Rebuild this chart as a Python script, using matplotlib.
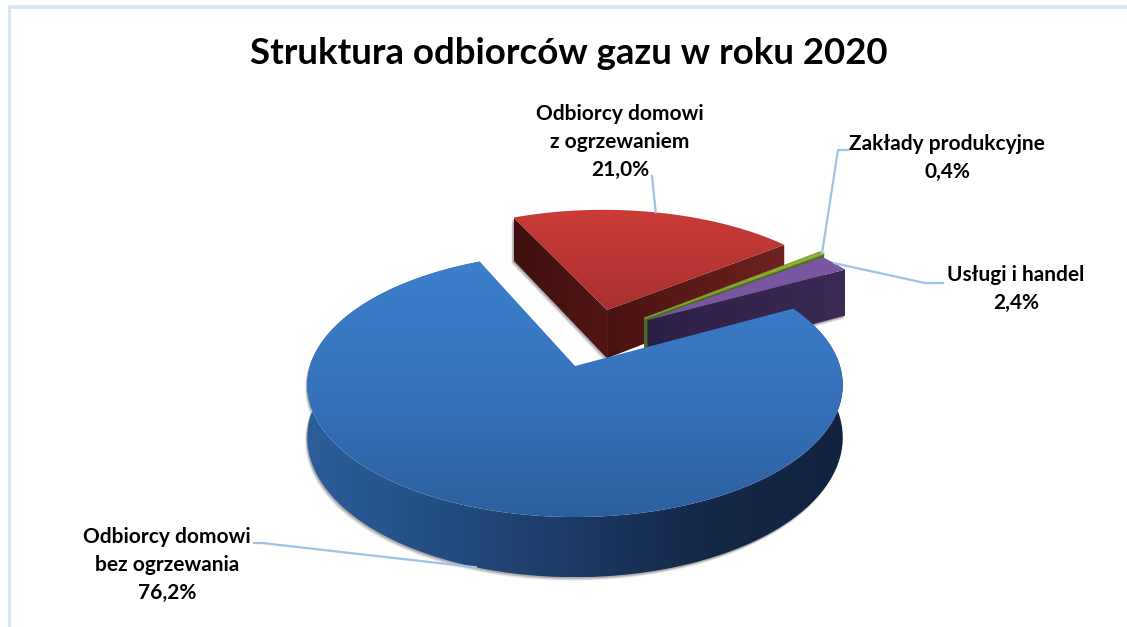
#!/usr/bin/env python3
import numpy as np
import matplotlib
matplotlib.use('Agg')
import matplotlib.pyplot as plt
from matplotlib.colors import LinearSegmentedColormap
from matplotlib.patches import Polygon

title = 'Struktura odbiorców gazu w roku 2020'
# clockwise from the slice that starts the pie
names = ['Odbiorcy domowi\nz ogrzewaniem', 'Zakłady produkcyjne', 'Usługi i handel', 'Odbiorcy domowi\nbez ogrzewania']
shares = [21.0, 0.4, 2.4, 76.2]

# pie layout, in pixels of the picture
START_ANGLE = 114.0
CX, CY = 575.0, 366.0
RX, RY = 265.0, 129.3
PERSPECTIVE = 0.144
DEPTH = 51.5
# how far each slice is pulled out of the pie (disk units), and its radius
pull = [(0.129, 0.462), (0.275, 0.388), (0.288, 0.375), (0.0, 0.0)]
radius = [1.0, 1.0, 0.97, 1.0]

LINE = '#9dc3e6'
plt.rcParams['font.family'] = ['Lato', 'DejaVu Sans']

fig = plt.figure(figsize=(11.27, 6.27), dpi=100)
ax = fig.add_axes([0, 0, 1, 1])
ax.set_xlim(0, 1127)
ax.set_ylim(627, 0)
ax.axis('off')


def project(x, y, z=0.0):
    # z=0 is the top of the pie, z=1 its underside
    w = 1 + PERSPECTIVE * y
    return CX + RX * x / w, CY - RY * y / w + DEPTH * z / w


def slice_angles():
    angles = []
    a = START_ANGLE
    for s in shares:
        b = a - s * 3.6
        angles.append((a, b))
        a = b
    return angles


def on_rim(i, t, z=0.0):
    return project(radius[i] * np.cos(t) + pull[i][0], radius[i] * np.sin(t) + pull[i][1], z)


def rim(i, a, b, z=0.0, n=120):
    t = np.radians(np.linspace(a, b, n))
    return np.column_stack(on_rim(i, t, z))


def apex(i, z=0.0):
    return np.array(project(pull[i][0], pull[i][1], z))


def shade(verts, colors, vertical=True, zorder=2):
    """Fill a polygon with a linear gradient, via a clipped image."""
    cmap = LinearSegmentedColormap.from_list('g', colors)
    ramp = np.linspace(0, 1, 256)
    ramp = ramp[:, None] if vertical else ramp[None, :]
    x0, y0 = verts.min(axis=0)
    x1, y1 = verts.max(axis=0)
    im = ax.imshow(ramp, cmap=cmap, extent=(x0, x1, y1, y0), aspect='auto', zorder=zorder,
                   interpolation='bilinear')
    clip = Polygon(verts, closed=True, transform=ax.transData, fc='none', ec='none')
    ax.add_patch(clip)
    im.set_clip_path(clip)
    ax.set_xlim(0, 1127)
    ax.set_ylim(627, 0)


def cut_face(i, angle):
    t = np.radians(angle)
    return np.array([apex(i), on_rim(i, t), on_rim(i, t, 1.0), apex(i, 1.0)])


def top_face(i, a, b):
    return np.vstack([apex(i), rim(i, a, b)])


def soft_shadow(verts):
    for off, alpha in [(3.5, 0.12), (2.5, 0.2), (1.5, 0.3)]:
        ax.add_patch(Polygon(verts + np.array([-off * 0.6, off]), closed=True, fc='#606060',
                             ec='none', alpha=alpha, zorder=1))


angles = slice_angles()

# frame of the chart, only top and left are in the crop
ax.plot([9, 1127], [6.5, 6.5], color='#d5e3f3', lw=2.6, solid_capstyle='butt', zorder=0)
ax.plot([9, 9], [5, 627], color='#d5e3f3', lw=2.0, solid_capstyle='butt', zorder=0)

# red slice
a, b = angles[0]
soft_shadow(cut_face(0, a))
shade(cut_face(0, a), ['#3f100e', '#521714'], vertical=False, zorder=3)
shade(cut_face(0, b), ['#481310', '#6f2220'], vertical=False, zorder=3)
shade(top_face(0, a, b), ['#cb3c38', '#a8302e'], zorder=4)

# green slice
a, b = angles[1]
ax.add_patch(Polygon(cut_face(1, b), closed=True, fc='#4e6a1e', ec='none', zorder=5))
ax.add_patch(Polygon(top_face(1, a, b), closed=True, fc='#93b83c', ec='#7f9f30', lw=1.0, zorder=6))

# purple slice
a, b = angles[2]
soft_shadow(cut_face(2, b))
shade(cut_face(2, b), ['#2c1f45', '#3c2a54'], vertical=False, zorder=7)
ax.add_patch(Polygon(top_face(2, a, b), closed=True, fc='#7a55a2', ec='none', zorder=8))

# blue slice
a, b = angles[3]
wall = np.vstack([rim(3, a, b), rim(3, a, b, 1.0)[::-1]])
soft_shadow(wall)
shade(wall, ['#2c5e9a', '#234d82', '#1c3a64', '#142847', '#11233f'], vertical=False, zorder=9)
shade(top_face(3, a, b), ['#3c7fcc', '#3673bd', '#2d5f9e'], zorder=10)

# title and labels
ax.text(569, 53, title, ha='center', va='center', fontsize=26.4, fontweight='bold', color='black', zorder=20)

label_xy = [(620, 142), (947, 158), (1016, 289), (167, 565)]
elbows = [[(652, 176)],
          [(838, 150), (848, 150)],
          [(925, 283), (943, 283)],
          [(262, 543), (254, 543)]]
anchor_z = [0.0, 0.0, 0.0, 1.0]
for i, (nm, s) in enumerate(zip(names, shares)):
    mid = np.radians(sum(angles[i]) / 2)
    start = on_rim(i, mid, anchor_z[i])
    pts = np.array([start] + elbows[i])
    ax.plot(pts[:, 0], pts[:, 1], color=LINE, lw=1.6, zorder=15, solid_joinstyle='round')
    txt = nm + '\n' + f'{s:.1f}%'.replace('.', ',')
    ax.text(label_xy[i][0], label_xy[i][1], txt, ha='center', va='center', fontsize=15,
            fontweight='bold', color='black', linespacing=1.48, zorder=20)

fig.savefig('out.png', dpi=100, facecolor='white')
plt.close(fig)
